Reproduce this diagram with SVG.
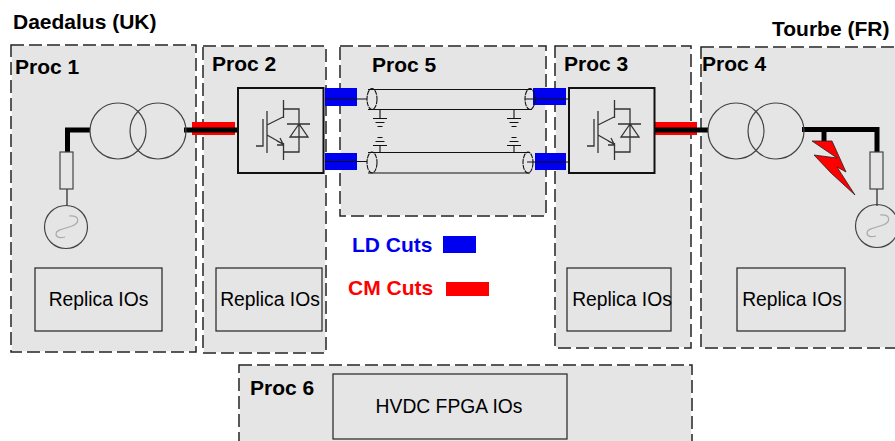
<svg xmlns="http://www.w3.org/2000/svg" xmlns:xlink="http://www.w3.org/1999/xlink" width="895" height="441" viewBox="0 0 895 441">
<style>
text{font-family:"Liberation Sans",Arial,sans-serif;fill:#000}
.b{font-weight:bold;font-size:21px}
.r{font-size:19.300px;text-anchor:middle}
.proc{fill:#e5e5e5;stroke:#fff;stroke-width:1.500}
.dash{fill:none;stroke:#222;stroke-width:1.500;stroke-dasharray:13 5}
.io{fill:#e5e5e5;stroke:#222;stroke-width:1.200}
.th{stroke:#000;stroke-width:5;fill:none}
.sym{stroke:#333;stroke-width:1.300;fill:none}
.cir{stroke:#444;stroke-width:1.200;fill:none}
.bl{fill:#0000f0}.rd{fill:#f00}
.thin{stroke:#111;stroke-width:1.100;fill:none}
.res{fill:#e5e5e5;stroke:#444;stroke-width:1.200}
.wave{stroke:#aaa;stroke-width:1.200;fill:none}
</style>
<defs>
<g id="conv">
<rect x="0" y="0" width="85.500" height="85" fill="#e5e5e5" stroke="#111" stroke-width="2"/>
<path class="sym" d="M29 23V65M25 31V58H18M29 37L45 29M29 47L45 56M45.500 12V30M45.500 55V72M45.500 21H61V64H45.500M49 36H72M61 36L52 49H70ZM39 53L45 56L42 50M39 57H45"/>
</g>
<g id="gnddn"><path class="thin" d="M0 0V8M-7 8.500H7M-4.500 12.500H4.500M-2.500 16.500H2.500"/></g>
<g id="gndup"><path class="thin" d="M0 0V-6M-7 -6.500H7M-4.500 -10.500H4.500M-2.500 -14.500H2.500"/></g>
</defs>
<rect width="895" height="441" fill="#fff"/>
<g id="proc1"><rect class="proc" x="11" y="45" width="185" height="307"/><rect class="dash" x="11" y="45" width="185" height="307"/><text class="b" x="15" y="74">Proc 1</text></g>
<g id="proc2"><rect class="proc" x="203" y="46" width="123" height="307"/><rect class="dash" x="203" y="46" width="123" height="307"/><text class="b" x="212" y="71">Proc 2</text></g>
<g id="proc5"><rect class="proc" x="340" y="46" width="206" height="170"/><rect class="dash" x="340" y="46" width="206" height="170"/><text class="b" x="372" y="72">Proc 5</text></g>
<g id="proc3"><rect class="proc" x="555" y="46" width="136" height="302"/><rect class="dash" x="555" y="46" width="136" height="302"/><text class="b" x="564" y="71">Proc 3</text></g>
<g id="proc4"><rect class="proc" x="701" y="47" width="200" height="301"/><rect class="dash" x="701" y="47" width="200" height="301"/><text class="b" x="702" y="71">Proc 4</text></g>
<g id="proc6"><rect class="proc" x="239" y="365" width="453" height="82"/><rect class="dash" x="239" y="365" width="453" height="82"/><text class="b" x="250" y="395">Proc 6</text></g>
<g id="title-uk"><text class="b" x="13" y="29">Daedalus (UK)</text></g>
<g id="title-fr"><text class="b" x="772" y="36">Tourbe (FR)</text></g>
<g id="io1"><rect class="io" x="35" y="268" width="127" height="63"/><text class="r" x="98.500" y="306">Replica IOs</text></g>
<g id="io2"><rect class="io" x="216" y="268" width="106" height="63"/><text class="r" x="270" y="306">Replica IOs</text></g>
<g id="io3"><rect class="io" x="567" y="268" width="104" height="63"/><text class="r" x="622" y="306">Replica IOs</text></g>
<g id="io4"><rect class="io" x="737" y="268" width="108" height="63"/><text class="r" x="792" y="306">Replica IOs</text></g>
<g id="io6"><rect class="io" x="333" y="374" width="234" height="65"/><text class="r" x="449" y="413">HVDC FPGA IOs</text></g>
<g id="legend-ld"><text class="b" x="352" y="252" style="fill:#0000f0">LD Cuts</text><rect class="bl" x="443" y="236" width="33" height="17"/></g>
<g id="legend-cm"><text class="b" x="348" y="295" style="fill:#f00">CM Cuts</text><rect class="rd" x="446" y="282" width="43" height="14"/></g>
<g id="connectors">
<rect class="rd" x="192" y="122" width="43" height="13"/>
<rect class="rd" x="654" y="122" width="43" height="13"/>
<rect class="bl" x="325" y="88" width="32" height="18"/>
<rect class="bl" x="325" y="153" width="32" height="17"/>
<rect class="bl" x="533" y="88" width="33" height="17"/>
<rect class="bl" x="535" y="153" width="31" height="17"/>
<path class="thin" d="M325 99H367M325 161.500H367M525 99H569M527 162H569"/>
<path class="th" d="M90 130H67.500V152M184 130H238M654 130H708M802 129.500H877V152M824 130V143"/>
<path class="thin" d="M67 189V206M877 189V206"/>
</g>
<g id="transformer-uk"><circle class="cir" cx="118" cy="131" r="28"/><circle class="cir" cx="158" cy="131" r="28"/></g>
<g id="source-uk"><rect class="res" x="60" y="152" width="13" height="37"/><circle class="cir" cx="66" cy="227" r="21.500"/><path class="wave" d="M69 216C80 215 80 223 72 226C65 229 56 229 56 234C56 238 61 238 65 237"/></g>
<g id="converter-1"><use xlink:href="#conv" href="#conv" x="238" y="88"/></g>
<g id="converter-2"><use xlink:href="#conv" href="#conv" x="569" y="88"/></g>
<g id="cable-1"><path class="thin" d="M368 89.500H532M368 109.500H532"/><ellipse class="thin" cx="372" cy="99" rx="5" ry="10.500" stroke-dasharray="5 0.800"/><ellipse class="thin" cx="530" cy="99" rx="5" ry="10.500" stroke-dasharray="5 0.800"/><use xlink:href="#gnddn" href="#gnddn" x="380" y="110"/><use xlink:href="#gnddn" href="#gnddn" x="514" y="110"/></g>
<g id="cable-2"><path class="thin" d="M368 152.500H530M368 173H530"/><ellipse class="thin" cx="372" cy="162.500" rx="5" ry="10.500" stroke-dasharray="5 0.800"/><ellipse class="thin" cx="528" cy="162.500" rx="5" ry="10.500" stroke-dasharray="5 0.800"/><use xlink:href="#gndup" href="#gndup" x="380" y="152"/><use xlink:href="#gndup" href="#gndup" x="514" y="152"/></g>
<g id="transformer-fr"><circle class="cir" cx="736" cy="131" r="28"/><circle class="cir" cx="776" cy="131" r="28"/></g>
<g id="source-fr"><rect class="res" x="870" y="152" width="13" height="37"/><circle class="cir" cx="877" cy="226" r="21.500"/><path class="wave" d="M880 215C891 214 891 222 883 225C876 228 867 228 867 233C867 237 872 237 876 236"/></g>
<g id="fault"><polygon points="812,141 832,141 846,172 837,167 855,195 831,173 814,155 837,158" fill="#f00" stroke="#222" stroke-width="0.800"/></g>
</svg>
